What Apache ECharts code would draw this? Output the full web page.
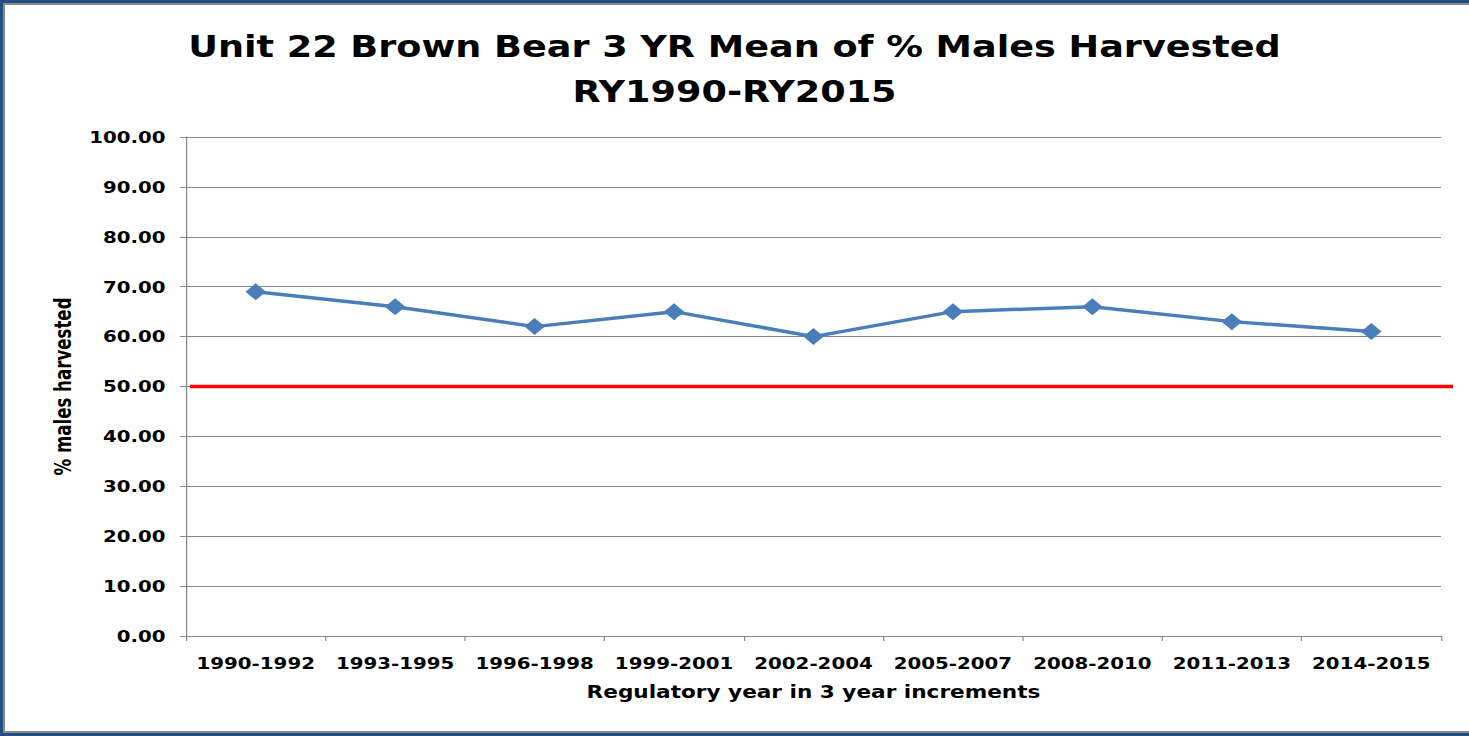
<!DOCTYPE html>
<html>
<head>
<meta charset="utf-8">
<script src="https://cdn.jsdelivr.net/npm/echarts@6/dist/echarts.min.js"></script>
<style>
  html, body { margin: 0; padding: 0; background: #ffffff; overflow: hidden; }
  #frame { position: absolute; left: 0; top: 0; width: 1469px; height: 736px; background: #234E84; }
  #inner { position: absolute; left: 3px; top: 3px; width: 1470px; height: 730px;
           background: #ffffff; border-top: 2px solid #8a8a8a; border-left: 2px solid #8a8a8a;
           border-bottom: 2px solid #8a8a8a; box-sizing: border-box; }
  #chart { position: absolute; left: 0; top: 0; height: 736px; transform-origin: 0 0; }
</style>
</head>
<body>
<div id="frame"><div id="inner"></div></div>
<div id="chart"></div>
<script>
// ---- data ----
const titleLines = ['Unit 22 Brown Bear 3 YR Mean of % Males Harvested', 'RY1990-RY2015'];
const categories = ['1990-1992', '1993-1995', '1996-1998', '1999-2001', '2002-2004',
                    '2005-2007', '2008-2010', '2011-2013', '2014-2015'];
const malesPct = [69, 66, 62, 65, 60, 65, 66, 63, 61];
const thresholdPct = [50, 50];
const thresholdCats = ['start', 'end'];
const yAxisName = '% males harvested';
const xAxisName = 'Regulatory year in 3 year increments';

// ---- layout (reference image is horizontally stretched) ----
const S = 1.2;
const W = 1469 / S;
const el = document.getElementById('chart');
el.style.width = W + 'px';
el.style.transform = 'scaleX(' + S + ')';

const chart = echarts.init(el, null, { renderer: 'svg', width: W, height: 736 });
const grey = '#868686';
const font = "'DejaVu Sans', Verdana, sans-serif";

chart.setOption({
  animation: false,
  backgroundColor: 'transparent',
  title: {
    text: titleLines.join('\n'),
    left: 'center',
    top: 19,
    textStyle: { fontFamily: font, fontWeight: 'bold', fontSize: 30.5, lineHeight: 45, color: '#000' }
  },
  grid: [
    { left: 186 / S, right: W - 1441 / S, top: 137, bottom: 100 },
    { left: 190 / S, right: W - 1453 / S, top: 137, bottom: 100 }
  ],
  xAxis: [
    {
      type: 'category', gridIndex: 0, data: categories, boundaryGap: true,
      axisLine: { lineStyle: { color: grey, width: 1 } },
      axisTick: { show: true, length: 5, interval: 0, lineStyle: { color: grey } },
      axisLabel: { color: '#000', fontFamily: font, fontWeight: 'bold', fontSize: 16.5, margin: 19, interval: 0 },
      name: xAxisName, nameLocation: 'middle', nameGap: 47,
      nameTextStyle: { color: '#000', fontFamily: font, fontWeight: 'bold', fontSize: 18 }
    },
    {
      type: 'category', gridIndex: 1, data: thresholdCats, boundaryGap: false, show: false
    }
  ],
  yAxis: [
    {
      type: 'value', gridIndex: 0, min: 0, max: 100, interval: 10,
      axisLine: { show: true, lineStyle: { color: grey, width: 1 } },
      axisTick: { show: true, length: 5, lineStyle: { color: grey } },
      splitLine: { show: true, lineStyle: { color: grey, width: 1 } },
      axisLabel: { color: '#000', fontFamily: font, fontWeight: 'bold', fontSize: 16.5, margin: 17,
                   formatter: v => v.toFixed(2) },
      name: yAxisName, nameLocation: 'middle', nameRotate: 90, nameGap: 93,
      nameTextStyle: { color: '#000', fontFamily: "'Liberation Sans Narrow', 'DejaVu Sans Condensed', 'Liberation Sans', sans-serif",
                       fontWeight: 'bold', fontSize: 18.5 }
    },
    {
      type: 'value', gridIndex: 1, min: 0, max: 100, show: false
    }
  ],
  series: [
    {
      type: 'line', xAxisIndex: 1, yAxisIndex: 1, data: thresholdPct,
      symbol: 'none', silent: true,
      lineStyle: { color: '#FF0000', width: 3.5 }, z: 3
    },
    {
      type: 'line', xAxisIndex: 0, yAxisIndex: 0, data: malesPct,
      symbol: 'diamond', symbolSize: 17,
      itemStyle: { color: '#4A7EBB' },
      lineStyle: { color: '#4A7EBB', width: 3.5 }, z: 4
    }
  ]
});
</script>
</body>
</html>
